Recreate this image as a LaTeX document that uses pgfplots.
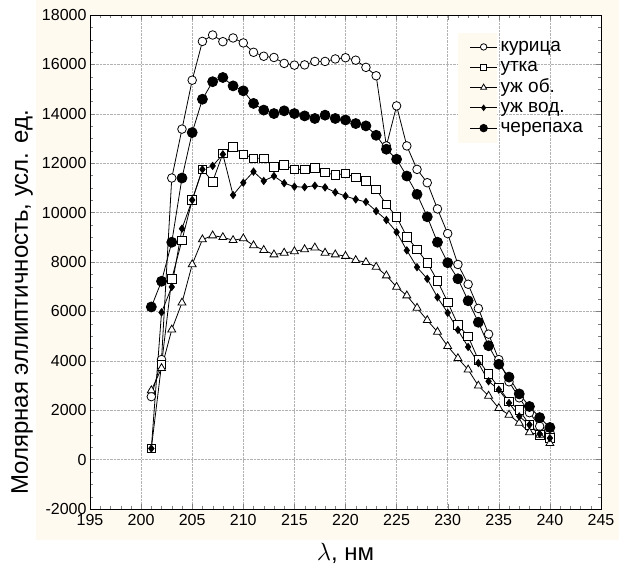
\documentclass[border=0pt]{standalone}
\usepackage{fontspec}
\setmainfont{Liberation Sans}
\usepackage{pgfplots}
\usepackage{pgfplotstable}
\pgfplotsset{compat=1.18}
\definecolor{cream}{RGB}{255,250,240}

\pgfplotstableread{
x kur utk ujob ujvod cher
201 2550 450 2800 450 6180
202 4050 3850 3700 5960 7220
203 11400 7320 5260 6990 8800
204 13380 8880 6350 9350 11400
205 15360 10510 7900 10510 13240
206 16930 11750 8910 11750 14590
207 17190 11250 9070 11890 15300
208 16920 12390 9000 12360 15470
209 17070 12660 8880 10710 15130
210 16870 12360 8950 11210 14930
211 16490 12200 8670 11660 14420
212 16330 12200 8480 11280 14150
213 16280 11860 8300 11480 14010
214 16040 11930 8370 11190 14120
215 15970 11750 8430 11050 14010
216 15980 11750 8510 11030 13915
217 16120 11820 8580 11090 13810
218 16120 11620 8370 11020 13945
219 16220 11520 8300 10820 13810
220 16270 11580 8240 10670 13750
221 16170 11420 8070 10535 13605
222 15880 11280 7990 10430 13510
223 15540 10940 7800 10060 13130
224 12700 10330 7450 9700 12565
225 14320 9830 6990 9210 12160
226 12700 9020 6640 8470 11480
227 11750 8510 6140 7790 10740
228 11210 7970 5640 7320 9830
229 10150 7240 5170 6570 8800
230 9150 6370 4590 5940 7970
231 7900 5460 4100 5250 7320
232 7100 4990 3640 4560 6430
233 6120 4040 2990 3910 5560
234 5080 3460 2580 3170 4610
235 4050 2920 2080 2830 3860
236 3150 2350 1810 2290 3340
237 2500 2010 1480 1750 2660
238 1900 1410 1100 1410 2150
239 1350 1000 1000 1040 1700
240 1100 870 660 870 1300
}\data

\begin{document}
\begin{tikzpicture}
\useasboundingbox (-90pt,-63pt) rectangle (529pt,509pt);
\fill[cream] (-54pt,-31pt) rectangle (529pt,509pt);
\begin{axis}[
  scale only axis, width=511pt, height=494pt,
  xmin=195, xmax=245, ymin=-2000, ymax=18000,
  xtick={195,200,...,245}, ytick={-2000,0,...,18000},
  scaled y ticks=false, scaled x ticks=false,
  minor x tick num=4, minor y tick num=3,
  tick align=inside, major tick length=5pt, minor tick length=3pt,
  grid=major, major grid style={densely dotted, gray!60},
  axis background/.style={fill=white},
  axis line style={black, line width=0.8pt},
  /pgf/number format/assume math mode=true,
  /pgf/number format/1000 sep={},
  tick label style={font=\fontsize{16}{18}\selectfont, black},
  xticklabel style={yshift=-1.5pt},
  xlabel={$\lambda$, нм},
  ylabel={Молярная эллиптичность, усл. ед.},
  label style={font=\fontsize{24}{27}\selectfont},
  xlabel style={at={(axis description cs:0.5,-0.089)}, anchor=center},
  ylabel style={at={(axis description cs:-0.133,0.418)}, anchor=center},
  legend style={at={(axis description cs:0.731,0.955)}, anchor=north west,
    draw=none, fill=none, font=\fontsize{19}{21}\selectfont, row sep=1.3pt,
    inner sep=0pt, nodes={inner sep=1pt, text height=13pt, text depth=4pt}},
  legend cell align=left,
  legend image code/.code={\draw[mark repeat=2, mark phase=2, #1, every mark/.append style={scale=0.75}] plot coordinates {(6pt,0pt) (19.5pt,0pt) (33pt,0pt)}; \path (0pt,0pt) (35pt,0pt);},
  every axis plot/.append style={black, line width=0.8pt},
]
\fill[cream] (axis cs:231.0,12818) rectangle (axis cs:234.8,17271);
\addplot[mark=*, mark size=4.3pt, mark options={fill=white}] table[x=x, y=kur] {\data};
\addlegendentry{курица}
\addplot[mark=square*, mark size=4.3pt, mark options={fill=white}] table[x=x, y=utk] {\data};
\addlegendentry{утка}
\addplot[mark=triangle*, mark size=4.6pt, mark options={fill=white}] table[x=x, y=ujob] {\data};
\addlegendentry{уж об.}
\addplot[mark=diamond*, mark size=3.6pt, mark options={fill=black}] table[x=x, y=ujvod] {\data};
\addlegendentry{уж вод.}
\addplot[mark=*, mark size=5pt, mark options={fill=black}] table[x=x, y=cher] {\data};
\addlegendentry{черепаха}
\end{axis}
\end{tikzpicture}
\end{document}
